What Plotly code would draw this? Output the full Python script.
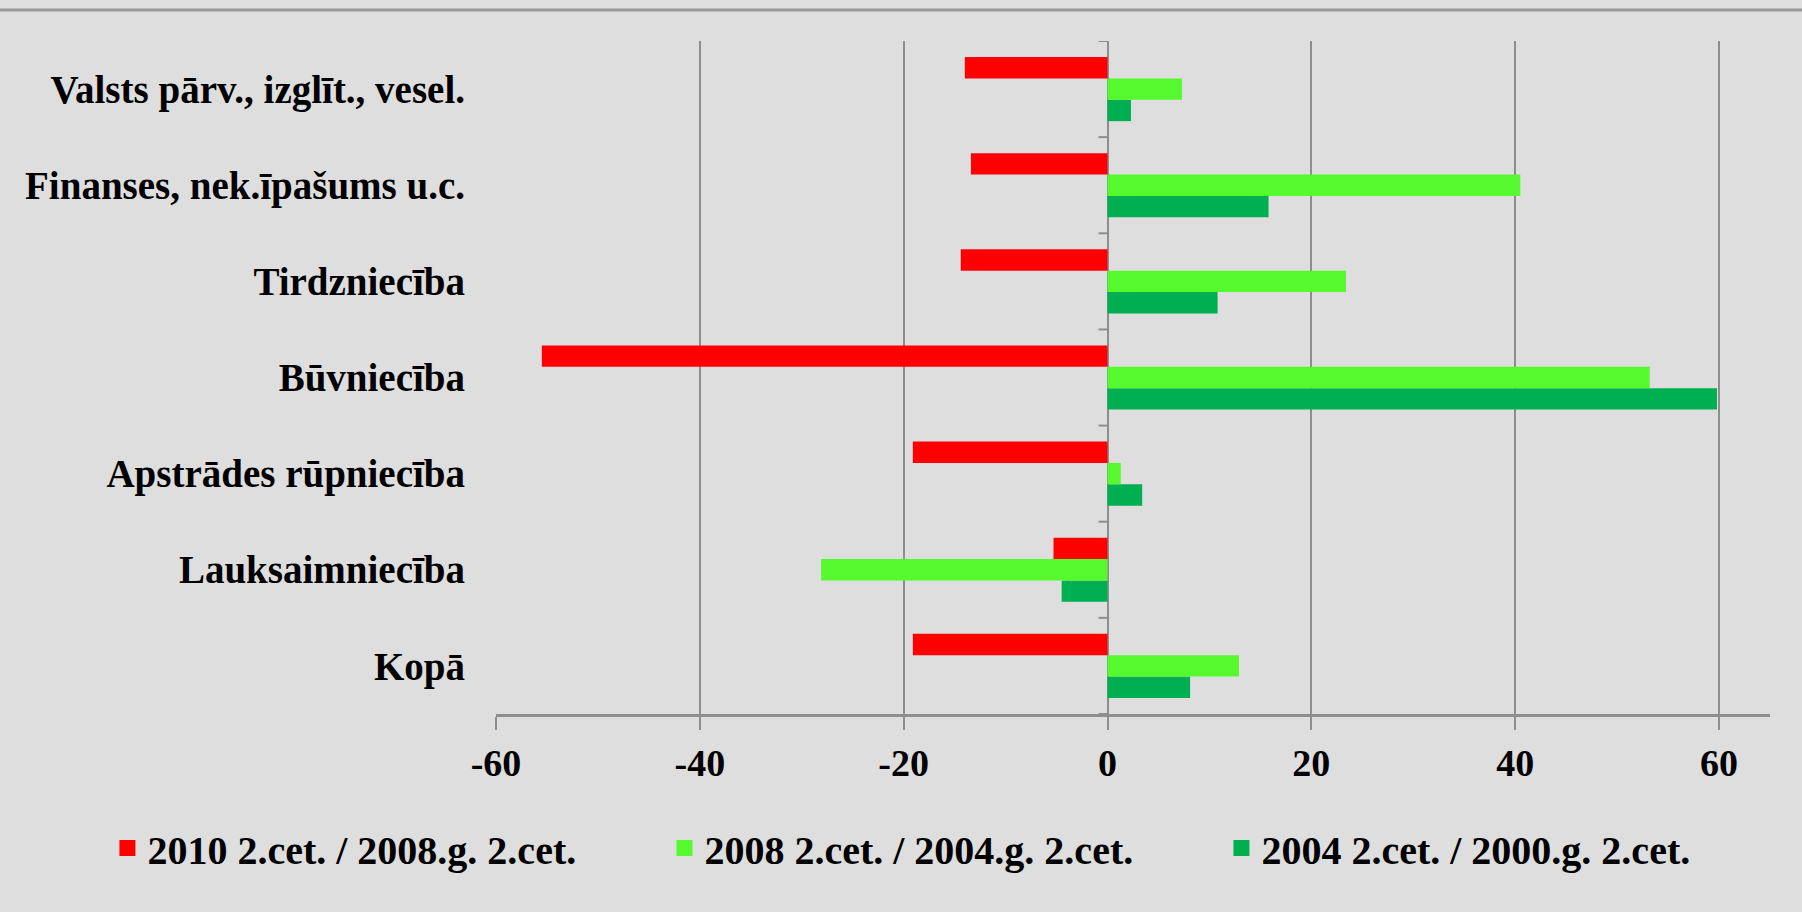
import plotly.graph_objects as go

categories = ["Kopā", "Lauksaimniecība", "Apstrādes rūpniecība", "Būvniecība",
              "Tirdzniecība", "Finanses, nek.īpašums u.c.", "Valsts pārv., izglīt., vesel."]
s2010 = [-19.1, -5.3, -19.1, -55.5, -14.4, -13.4, -14.0]
s2008 = [12.9, -28.1, 1.3, 53.2, 23.4, 40.5, 7.3]
s2004 = [8.1, -4.5, 3.4, 59.8, 10.8, 15.8, 2.3]
names = ["2010 2.cet. / 2008.g. 2.cet.", "2008 2.cet. / 2004.g. 2.cet.", "2004 2.cet. / 2000.g. 2.cet."]
colors = ["#FF0000", "#55F92E", "#00B050"]
xticks = [-60, -40, -20, 0, 20, 40, 60]

FONT = "Liberation Serif"
BG = "#DEDEDE"
GRID = "#8E8E8E"

fig = go.Figure()
# added bottom-to-top within a group
for vals, name, col in [(s2004, names[2], colors[2]), (s2008, names[1], colors[1]), (s2010, names[0], colors[0])]:
    fig.add_trace(go.Bar(y=categories, x=vals, orientation="h", name=name, showlegend=False,
                         marker=dict(color=col, line=dict(width=0))))

# legend entries (square keys), in reading order
for name, col in zip(names, colors):
    fig.add_trace(go.Scatter(x=[None], y=[None], mode="markers", name=name,
                             marker=dict(symbol="square", size=16, color=col)))

# category tick marks on the zero axis
for i in range(len(categories) + 1):
    fig.add_shape(type="line", xref="x", yref="y", xsizemode="pixel", xanchor=0,
                  x0=-9, x1=0, y0=i - 0.5, y1=i - 0.5,
                  line=dict(color=GRID, width=2), layer="above")

# top rule across the page
fig.add_shape(type="line", xref="paper", yref="paper", x0=-0.4, x1=1.05, y0=1.046, y1=1.046,
              line=dict(color="#9A9A9A", width=3))

fig.update_layout(
    width=1802, height=912,
    paper_bgcolor=BG, plot_bgcolor=BG,
    margin=dict(l=496, r=32, t=41, b=198),
    barmode="group", bargap=0.333, bargroupgap=0,
    font=dict(family=FONT, size=38, color="#000000", weight="bold"),
    xaxis=dict(range=[-60, 65], tickvals=xticks, ticktext=[str(v) for v in xticks],
               showgrid=True, gridcolor=GRID, gridwidth=1.5,
               zeroline=True, zerolinecolor=GRID, zerolinewidth=2,
               showline=True, linecolor=GRID, linewidth=3,
               ticks="outside", ticklen=13, tickcolor=GRID, tickwidth=1.5,
               ticklabelstandoff=0,
               tickfont=dict(family=FONT, size=38, color="#000000", weight="bold")),
    yaxis=dict(categoryorder="array", categoryarray=categories, range=[-0.5, 6.5],
               showgrid=False, zeroline=False, showline=False, ticks="",
               ticklabelstandoff=30,
               tickfont=dict(family=FONT, size=39, color="#000000", weight="bold")),
    legend=dict(orientation="h", traceorder="normal", itemsizing="trace",
                x=-0.305, xanchor="left",
                y=-0.199, yanchor="middle", bgcolor="rgba(0,0,0,0)",
                entrywidth=512, entrywidthmode="pixels",
                font=dict(family=FONT, size=40, color="#000000", weight="bold")),
    showlegend=True,
)

fig.write_html("out.html",
               config={"displayModeBar": False},
               post_script="document.body.style.margin='0';document.body.style.overflow='hidden';"
                           "document.body.style.background='#DEDEDE';")
